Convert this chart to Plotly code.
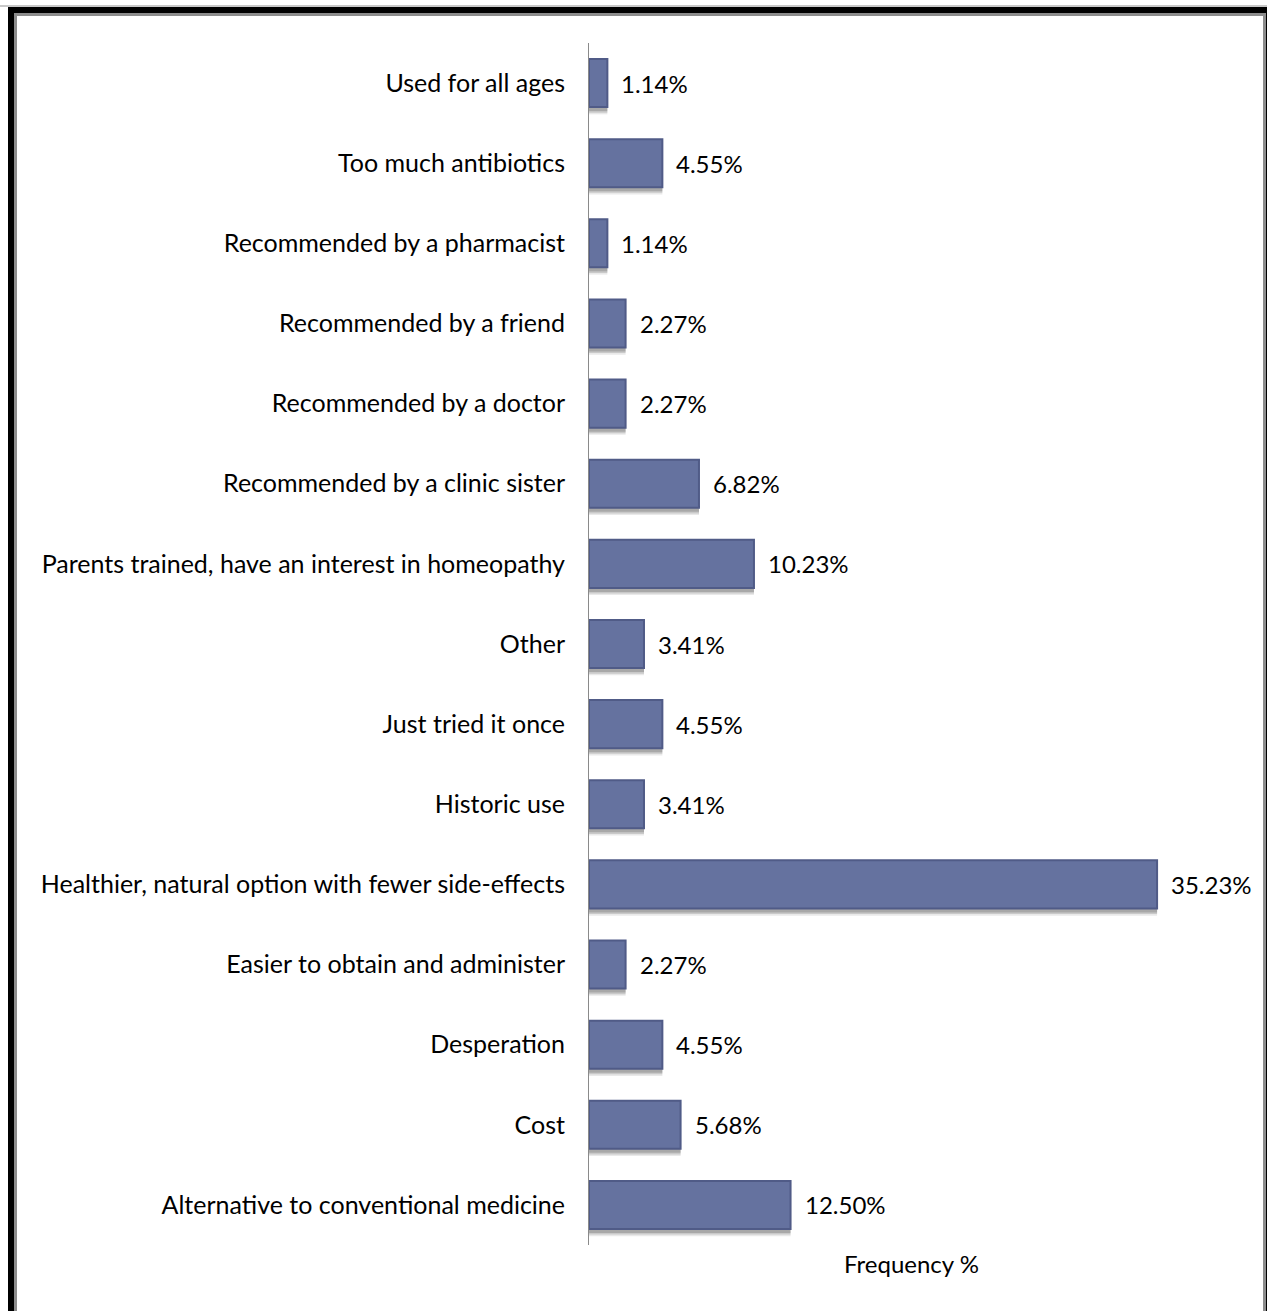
import plotly.graph_objects as go

categories = [
    "Alternative to conventional medicine",
    "Cost",
    "Desperation",
    "Easier to obtain and administer",
    "Healthier, natural option with fewer side-effects",
    "Historic use",
    "Just tried it once",
    "Other",
    "Parents trained, have an interest in homeopathy",
    "Recommended by a clinic sister",
    "Recommended by a doctor",
    "Recommended by a friend",
    "Recommended by a pharmacist",
    "Too much antibiotics",
    "Used for all ages",
]
values = [12.50, 5.68, 4.55, 2.27, 35.23, 3.41, 4.55, 3.41, 10.23, 6.82, 2.27, 2.27, 1.14, 4.55, 1.14]
value_labels = ["%.2f%%" % v for v in values]
axis_title = "Frequency %"

W, H = 1267, 1311
L, R, T, B = 589, 1234, 43, 1245
FONT = "Lato"

def px(x):
    return (x - L) / (R - L)

def py(y):
    return (B - y) / (B - T)

fig = go.Figure()

# soft shadow under bars
for off, alpha in [(-0.39, 0.10), (-0.37, 0.16), (-0.35, 0.20)]:
    fig.add_trace(go.Bar(
        y=categories, x=values, orientation="h",
        width=0.6, offset=off,
        marker=dict(color="rgba(40,40,40,%.2f)" % alpha, line=dict(width=0)),
        hoverinfo="skip", showlegend=False,
    ))
fig.add_trace(go.Bar(
    y=categories, x=values, orientation="h",
    width=0.6,
    marker=dict(color="#65729f", line=dict(color="#505b87", width=2)),
    showlegend=False,
))

for c, v, t in zip(categories, values, value_labels):
    fig.add_annotation(x=v, y=c, text=t, showarrow=False, xanchor="left",
                       xshift=12, font=dict(family=FONT, size=24, color="#000"))

shapes = []
# picture frame
shapes.append(dict(type="rect", xref="paper", yref="paper", layer="below",
                   x0=px(8), x1=px(1267), y0=py(7), y1=py(1320),
                   fillcolor="#000000", line=dict(width=0)))
shapes.append(dict(type="rect", xref="paper", yref="paper", layer="below",
                   x0=px(14), x1=px(1266), y0=py(13), y1=py(1320),
                   fillcolor="#8c8c8c", line=dict(width=0)))
shapes.append(dict(type="rect", xref="paper", yref="paper", layer="below",
                   x0=px(17), x1=px(1263), y0=py(16), y1=py(1320),
                   fillcolor="#ffffff", line=dict(width=0)))
shapes.append(dict(type="rect", xref="paper", yref="paper", layer="below",
                   x0=px(0), x1=px(1267), y0=py(5), y1=py(7),
                   fillcolor="#c8c8c8", line=dict(width=0)))
fig.update_layout(shapes=shapes)

fig.update_layout(
    width=W, height=H,
    margin=dict(l=L, r=W - R, t=T, b=H - B, pad=0),
    paper_bgcolor="white",
    plot_bgcolor="rgba(0,0,0,0)",
    barmode="overlay",
    font=dict(family=FONT, size=24, color="#000"),
    xaxis=dict(range=[0, 40], showgrid=False, zeroline=False, showline=False,
               showticklabels=False, ticks="",
               title=dict(text=axis_title, standoff=11, font=dict(family=FONT, size=24))),
    yaxis=dict(showgrid=False, zeroline=False, showline=True, linecolor="#8a8a8a",
               linewidth=1, ticks="", ticklabelstandoff=18,
               tickfont=dict(family=FONT, size=25, color="#000"),
               categoryorder="array", categoryarray=categories),
)

fig.write_html("out.html", config={"displayModeBar": False},
               post_script="document.body.style.margin='0';document.body.style.overflow='hidden';")
